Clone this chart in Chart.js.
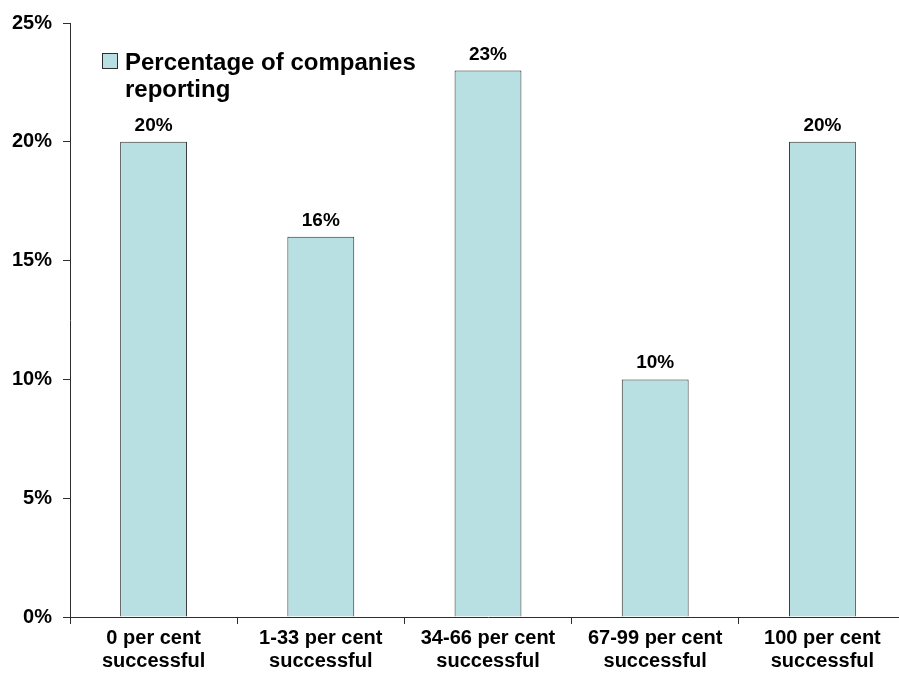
<!DOCTYPE html>
<html lang="en">
<head>
    <meta charset="UTF-8">
    <script src="https://cdn.jsdelivr.net/npm/chart.js"></script>
    <title>Companies reporting success</title>
    <style>
        body { margin: 0; background: #fff; overflow: hidden; }
        .wrap { width: 910px; height: 682px; }
    </style>
</head>
<body>
    <div class="wrap">
        <canvas id="successChart" width="910" height="682"></canvas>
    </div>

<script>
const categories = [
    ['0 per cent', 'successful'],
    ['1-33 per cent', 'successful'],
    ['34-66 per cent', 'successful'],
    ['67-99 per cent', 'successful'],
    ['100 per cent', 'successful']
];
const shares = [20, 16, 23, 10, 20];
const seriesLabel = ['Percentage of companies', 'reporting'];
const yTicks = [0, 5, 10, 15, 20, 25];

const FONT = "'Liberation Sans', Arial, sans-serif";
const barFill = '#b8e0e2';
const lineColor = '#2e2e2e';

// value labels over each bar
const valueLabels = {
    id: 'valueLabels',
    afterDatasetsDraw(chart) {
        const ctx = chart.ctx;
        const meta = chart.getDatasetMeta(0);
        ctx.save();
        ctx.font = 'bold 19px ' + FONT;
        ctx.fillStyle = '#000';
        ctx.textAlign = 'center';
        ctx.textBaseline = 'alphabetic';
        meta.data.forEach((bar, i) => {
            ctx.fillText(shares[i] + '%', bar.x, bar.y - 11);
        });
        ctx.restore();
    }
};

// legend box in the top-left of the plot
const boxLegend = {
    id: 'boxLegend',
    afterDraw(chart) {
        const ctx = chart.ctx;
        const area = chart.chartArea;
        const x = area.left + 32;
        const y = area.top + 30;
        ctx.save();
        ctx.fillStyle = barFill;
        ctx.strokeStyle = lineColor;
        ctx.lineWidth = 1;
        ctx.fillRect(x, y, 15, 15);
        ctx.strokeRect(x + 0.5, y + 0.5, 15, 15);
        ctx.font = 'bold 24px ' + FONT;
        ctx.fillStyle = '#000';
        ctx.textBaseline = 'middle';
        seriesLabel.forEach((line, i) => {
            ctx.fillText(line, x + 23, y + 10 + i * 27);
        });
        ctx.restore();
    }
};

new Chart(document.getElementById('successChart'), {
    type: 'bar',
    data: {
        labels: categories,
        datasets: [{
            label: seriesLabel.join(' '),
            data: shares,
            backgroundColor: barFill,
            borderColor: lineColor,
            borderWidth: 1,
            barPercentage: 0.4,
            categoryPercentage: 1
        }]
    },
    options: {
        responsive: false,
        animation: false,
        layout: { padding: { top: 18, right: 4, left: 0, bottom: 0 } },
        plugins: {
            legend: { display: false },
            tooltip: { enabled: false }
        },
        scales: {
            x: {
                afterFit(scale) { scale.height = 65; },
                grid: { drawOnChartArea: false, tickLength: 7, color: lineColor, offset: true },
                border: { color: lineColor },
                ticks: {
                    color: '#000',
                    padding: 3,
                    maxRotation: 0,
                    font: { family: FONT, size: 20, weight: 'bold', lineHeight: 1.15 }
                }
            },
            y: {
                min: 0,
                max: 25,
                afterFit(scale) { scale.width = 70; },
                afterBuildTicks(scale) { scale.ticks = yTicks.map(v => ({ value: v })); },
                grid: { drawOnChartArea: false, tickLength: 7, color: lineColor },
                border: { color: lineColor },
                ticks: {
                    color: '#000',
                    padding: 11,
                    font: { family: FONT, size: 20, weight: 'bold' },
                    callback: v => v + '%'
                }
            }
        }
    },
    plugins: [valueLabels, boxLegend]
});
</script>
</body>
</html>
